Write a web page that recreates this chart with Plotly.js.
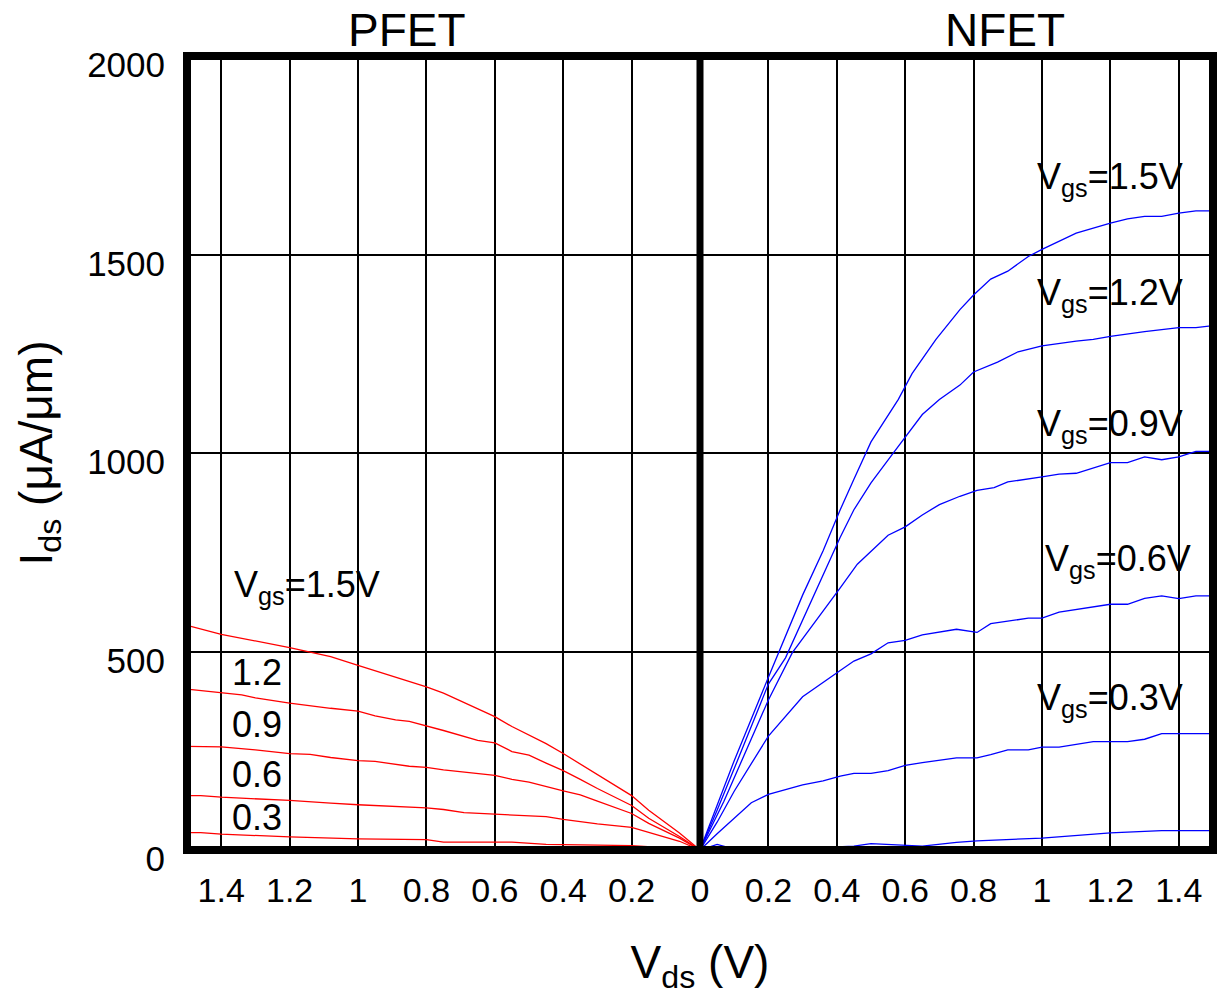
<!DOCTYPE html>
<html>
<head>
<meta charset="utf-8">
<script src="https://cdn.plot.ly/plotly-3.0.1.min.js"></script>
<style>html,body{margin:0;padding:0;background:#fff;}#chart{width:1225px;height:1008px;}</style>
</head>
<body>
<div id="chart"></div>
<script>
// ---- PFET curves (Vds magnitude, Ids magnitude) ----
const pfetVds15 = [1.5, 1.4, 1.2, 1.08, 1.0, 0.89, 0.8, 0.75, 0.6, 0.55, 0.45, 0.4, 0.3, 0.2, 0.15, 0.06, 0];
const pfetIds15 = [566, 543, 510, 487, 465, 436, 411, 395, 336, 311, 268, 243, 189, 137, 100, 43, 0];
const pfetVds12 = [1.5, 1.4, 1.34, 1.3, 1.2, 1.08, 1.0, 0.95, 0.89, 0.85, 0.8, 0.75, 0.65, 0.6, 0.55, 0.5, 0.45, 0.4, 0.35, 0.3, 0.2, 0.15, 0.06, 0];
const pfetIds12 = [405, 397, 391, 383, 370, 357, 350, 338, 328, 324, 313, 301, 276, 270, 248, 239, 219, 200, 178, 155, 112, 80, 34, 0];
const pfetVds09 = [1.5, 1.4, 1.3, 1.2, 1.14, 1.08, 1.0, 0.95, 0.85, 0.8, 0.75, 0.6, 0.55, 0.5, 0.4, 0.35, 0.3, 0.2, 0.15, 0.06, 0];
const pfetIds09 = [261, 260, 252, 243, 241, 233, 225, 223, 211, 208, 202, 188, 178, 171, 149, 139, 123, 92, 67, 30, 0];
const pfetVds06 = [1.5, 1.46, 1.4, 1.2, 1.08, 1.0, 0.8, 0.75, 0.69, 0.6, 0.45, 0.4, 0.3, 0.2, 0.15, 0.06, 0];
const pfetIds06 = [137, 137, 133, 125, 118, 114, 106, 102, 94, 90, 84, 77, 66, 57, 44, 22, 0];
const pfetVds03 = [1.5, 1.46, 1.4, 1.2, 1.0, 0.8, 0.75, 0.6, 0.55, 0.45, 0.2, 0];
const pfetIds03 = [44, 44, 40, 33, 28, 26, 20, 20, 20, 14, 11, 0];

// ---- NFET curves ----
const nfetVds15 = [0, 0.05, 0.1, 0.2, 0.3, 0.36, 0.41, 0.45, 0.5, 0.58, 0.62, 0.69, 0.76, 0.8, 0.85, 0.9, 0.96, 1.0, 1.1, 1.2, 1.25, 1.3, 1.35, 1.4, 1.45, 1.5];
const nfetIds15 = [0, 110, 225, 435, 642, 754, 857, 934, 1028, 1135, 1200, 1286, 1361, 1398, 1438, 1458, 1495, 1513, 1554, 1579, 1590, 1596, 1596, 1604, 1610, 1610];
const nfetVds12 = [0, 0.05, 0.1, 0.2, 0.25, 0.3, 0.36, 0.41, 0.45, 0.5, 0.56, 0.6, 0.65, 0.7, 0.76, 0.8, 0.87, 0.93, 1.0, 1.1, 1.15, 1.2, 1.25, 1.3, 1.4, 1.45, 1.5];
const nfetIds12 = [0, 100, 205, 418, 484, 578, 690, 788, 857, 925, 994, 1041, 1097, 1135, 1171, 1204, 1229, 1255, 1270, 1282, 1286, 1294, 1300, 1306, 1316, 1316, 1321];
const nfetVds09 = [0, 0.07, 0.2, 0.27, 0.41, 0.46, 0.55, 0.6, 0.65, 0.7, 0.76, 0.81, 0.86, 0.9, 1.0, 1.05, 1.1, 1.2, 1.25, 1.3, 1.35, 1.4, 1.45, 1.5];
const nfetIds09 = [0, 123, 378, 497, 660, 720, 793, 814, 844, 870, 891, 906, 913, 927, 940, 947, 949, 976, 976, 990, 983, 990, 1004, 1004];
const nfetVds06 = [0, 0.05, 0.1, 0.2, 0.3, 0.35, 0.41, 0.45, 0.5, 0.55, 0.6, 0.65, 0.75, 0.81, 0.85, 0.96, 1.0, 1.05, 1.1, 1.2, 1.25, 1.3, 1.35, 1.4, 1.45, 1.5];
const nfetIds06 = [0, 70, 148, 287, 386, 415, 452, 476, 494, 522, 528, 542, 556, 548, 570, 584, 584, 599, 606, 619, 619, 634, 640, 633, 640, 640];
const nfetVds03 = [0, 0.05, 0.15, 0.2, 0.3, 0.36, 0.41, 0.45, 0.5, 0.55, 0.6, 0.65, 0.75, 0.81, 0.85, 0.9, 0.96, 1.0, 1.05, 1.15, 1.25, 1.3, 1.35, 1.45, 1.5];
const nfetIds03 = [0, 41, 119, 140, 164, 174, 186, 193, 193, 200, 213, 220, 232, 232, 240, 252, 252, 259, 259, 273, 273, 279, 293, 293, 293];
const nfetVds00 = [0, 0.05, 0.09, 0.2, 0.4, 0.45, 0.5, 0.6, 0.65, 0.75, 0.81, 1.0, 1.1, 1.2, 1.35, 1.5];
const nfetIds00 = [0, 14, 5, 5, 8, 10, 16, 12, 10, 19, 23, 30, 36, 43, 49, 49];

// ---- axis ticks ----
const xTickVals = [-1.4, -1.2, -1.0, -0.8, -0.6, -0.4, -0.2, 0, 0.2, 0.4, 0.6, 0.8, 1.0, 1.2, 1.4];
const xTickText = ['1.4', '1.2', '1', '0.8', '0.6', '0.4', '0.2', '0', '0.2', '0.4', '0.6', '0.8', '1', '1.2', '1.4'];
const yTickVals = [0, 500, 1000, 1500, 2000];

const FONT = 'Liberation Sans, Arial, Helvetica, sans-serif';

const pfet = [[pfetVds15, pfetIds15], [pfetVds12, pfetIds12], [pfetVds09, pfetIds09], [pfetVds06, pfetIds06], [pfetVds03, pfetIds03]];
const nfet = [[nfetVds15, nfetIds15], [nfetVds12, nfetIds12], [nfetVds09, nfetIds09], [nfetVds06, nfetIds06], [nfetVds03, nfetIds03], [nfetVds00, nfetIds00]];

const traces = [];
pfet.forEach(function (s) {
  traces.push({x: s[0].map(function (v) { return -v; }), y: s[1], mode: 'lines', type: 'scatter',
    line: {color: '#ff0000', width: 1.3}, hoverinfo: 'skip', showlegend: false});
});
nfet.forEach(function (s) {
  traces.push({x: s[0], y: s[1], mode: 'lines', type: 'scatter',
    line: {color: '#0000ff', width: 1.3}, hoverinfo: 'skip', showlegend: false});
});

function ann(x, y, text, xref, yref) {
  return {x: x, y: y, xref: xref || 'x', yref: yref || 'y', text: text, showarrow: false,
    xanchor: 'center', yanchor: 'middle', font: {family: FONT, size: 36, color: '#000'}};
}

const annotations = [
  ann(0.2144, 1.033, 'PFET', 'paper', 'paper'),
  ann(0.797, 1.033, 'NFET', 'paper', 'paper'),
  ann(-1.15, 662, 'V<sub>gs</sub>=1.5V'),
  ann(-1.295, 446, '1.2'),
  ann(-1.295, 317, '0.9'),
  ann(-1.295, 189, '0.6'),
  ann(-1.295, 81, '0.3'),
  ann(1.200, 1690, 'V<sub>gs</sub>=1.5V'),
  ann(1.200, 1398, 'V<sub>gs</sub>=1.2V'),
  ann(1.200, 1068, 'V<sub>gs</sub>=0.9V'),
  ann(1.222, 728, 'V<sub>gs</sub>=0.6V'),
  ann(1.200, 378, 'V<sub>gs</sub>=0.3V')
];
annotations[0].font.size = 46;
annotations[1].font.size = 46;

const layout = {
  width: 1225, height: 1008,
  margin: {l: 187, r: 12, t: 56, b: 158},
  paper_bgcolor: '#fff', plot_bgcolor: '#fff',
  font: {family: FONT, color: '#000'},
  showlegend: false,
  xaxis: {
    range: [-1.5, 1.5], tickvals: xTickVals, ticktext: xTickText,
    showgrid: true, gridcolor: '#000', gridwidth: 2, zeroline: false, showline: false,
    ticks: 'outside', ticklen: 10, tickcolor: 'rgba(0,0,0,0)',
    tickfont: {family: FONT, size: 34, color: '#000'},
    title: {text: 'V<sub>ds</sub> (V)', font: {family: FONT, size: 46, color: '#000'}, standoff: 38},
    fixedrange: true
  },
  yaxis: {
    range: [0, 2000], tickvals: yTickVals,
    showgrid: true, gridcolor: '#000', gridwidth: 2, zeroline: false, showline: false,
    ticks: 'outside', ticklen: 14, tickcolor: 'rgba(0,0,0,0)',
    ticklabelshift: 9,
    tickfont: {family: FONT, size: 35, color: '#000'},
    title: {text: 'I<sub>ds</sub> (μA/μm)', font: {family: FONT, size: 46, color: '#000'}, standoff: 20},
    fixedrange: true
  },
  shapes: [
    {type: 'rect', xref: 'paper', yref: 'paper', x0: 0, x1: 1, y0: 0, y1: 1,
      line: {color: '#000', width: 8}, layer: 'above'},
    {type: 'line', xref: 'x', yref: 'paper', x0: 0, x1: 0, y0: 0, y1: 1,
      line: {color: '#000', width: 7}, layer: 'above'}
  ],
  annotations: annotations
};

Plotly.newPlot('chart', traces, layout, {staticPlot: true, displayModeBar: false});
</script>
</body>
</html>
